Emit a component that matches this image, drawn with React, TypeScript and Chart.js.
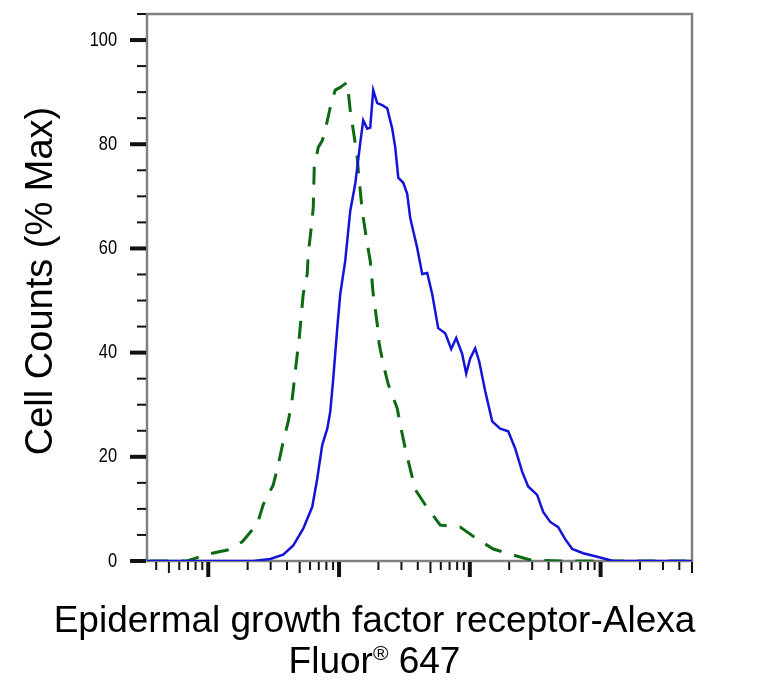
import React, { useEffect, useRef } from "react";
import { Chart, registerables } from "chart.js";

Chart.register(...registerables);

// EGFR-Alexa Fluor 647 stained cells (blue, solid)
const stainedX = [
  34, 221, 298, 374, 447, 532, 624, 681, 744, 813, 857, 903, 969, 1021, 1115,
  1218, 1330, 1452, 1531, 1643, 1732, 1825, 1959, 2138, 2335, 2550, 2690, 2838,
  3097, 3320, 3500, 3690, 3960, 4325, 4722, 5160, 5730, 6486, 7210, 7870, 8750,
  9380, 10070, 10990, 11800, 13120, 14830, 17060, 19660, 22230, 25160, 27940,
  32730, 36390, 41200, 47400, 53600, 60700, 73600, 94200, 124800, 500000,
];
const stainedY = [
  0, 0, 0.4, 1.2, 3, 6.2, 10.4, 15.8, 22.3, 25.4, 28.7, 35, 44.7, 51.2, 57.6,
  67.2, 72.4, 80.2, 84.6, 83, 83.2, 90.4, 87.9, 87.5, 86.9, 83, 79.4, 73.6,
  72.6, 70.5, 65.9, 63.4, 60.1, 55.1, 55.3, 51.2, 44.7, 43.7, 40.7, 42.8, 39.7,
  36, 38.9, 40.8, 38.3, 32.6, 26.8, 25.4, 24.9, 21.6, 17.1, 14.3, 12.7, 9.4,
  7.5, 6.5, 4.2, 2.3, 1.5, 0.8, 0, 0,
];

// isotype / unstained control (green, dashed)
const controlX = [
  36, 69, 95, 140, 182, 237, 263, 314, 343, 374, 409, 439, 454, 479, 496, 532,
  571, 582, 613, 635, 646, 693, 744, 784, 857, 935, 1021, 1155, 1218, 1285,
  1377, 1403, 1504, 1643, 1732, 1825, 1959, 2030, 2178, 2377, 2786, 2938, 3206,
  3500, 3828, 4560, 5940, 8450, 11400, 15100, 21100, 29000, 51800, 500000,
];
const controlY = [
  0, 0, 1.2, 2.1, 3.7, 7.1, 10.8, 14.6, 18.5, 22.9, 26.8, 31.2, 34.5, 39.7,
  42.8, 51.2, 55.1, 59, 64, 67.8, 75.5, 79.4, 80.7, 82.7, 87.1, 90.4, 90.9,
  91.9, 86.5, 82.7, 77.5, 75, 67.2, 60.9, 57.6, 51.2, 45.5, 41.6, 37.8, 33.9,
  29.3, 26.2, 21.6, 17.7, 13.7, 10.8, 6.9, 6.5, 4.2, 2.3, 1.2, 0.2, 0, 0,
];

const yTickValues = [0, 5, 10, 15, 20, 25, 30, 35, 40, 45, 50, 55, 60, 65, 70, 75, 80, 85, 90, 95, 100, 105];
const yTickLabels = ["0", "20", "40", "60", "80", "100"];
const xDecades = [10, 100, 1000, 10000, 100000];
const xMinorSteps = [2, 3, 4, 5, 6, 7, 8, 9];

const yTitle = "Cell Counts (% Max)";
const xTitleLine1 = "Epidermal growth factor receptor-Alexa";
const xTitleLine2 = ["Fluor", "®", " 647"];

const FONT = "'Liberation Sans', Arial, Helvetica, sans-serif";

const axisDecor = {
  id: "axisDecor",
  beforeDatasetsDraw(chart: any) {
    const { ctx, chartArea: a } = chart;
    ctx.save();
    ctx.strokeStyle = "#808080";
    ctx.lineWidth = 2.5;
    ctx.strokeRect(a.left, a.top, a.right - a.left, a.bottom - a.top);
    ctx.restore();
  },
  afterDraw(chart: any) {
    const { ctx, chartArea: a, scales } = chart;
    const xs = scales.x;
    const ys = scales.y;
    ctx.save();
    ctx.strokeStyle = "#111";
    ctx.lineCap = "butt";

    // y tick marks and labels (labels are a narrow face, squeeze regular one)
    yTickValues.forEach((v) => {
      const py = ys.getPixelForValue(v);
      const major = v % 20 === 0;
      ctx.lineWidth = major ? 4 : 2;
      ctx.beginPath();
      ctx.moveTo(a.left - (major ? 17 : 10), py);
      ctx.lineTo(a.left - 1, py);
      ctx.stroke();
      const label = String(v);
      if (yTickLabels.includes(label)) {
        ctx.save();
        ctx.fillStyle = "#000";
        ctx.font = `20px ${FONT}`;
        ctx.textAlign = "right";
        ctx.textBaseline = "middle";
        ctx.translate(117, py);
        ctx.scale(0.82, 1);
        ctx.fillText(label, 0, 0);
        ctx.restore();
      }
    });

    // x tick marks (log decades + minors)
    xDecades.forEach((d) => {
      if (d >= xs.min && d <= xs.max) {
        const px = xs.getPixelForValue(d);
        ctx.lineWidth = 4;
        ctx.beginPath();
        ctx.moveTo(px, a.bottom + 1);
        ctx.lineTo(px, a.bottom + 16);
        ctx.stroke();
      }
      xMinorSteps.forEach((s) => {
        const v = d * s;
        if (v < xs.min || v > xs.max * 1.001) return;
        const px = xs.getPixelForValue(v);
        ctx.lineWidth = 2;
        ctx.beginPath();
        ctx.moveTo(px, a.bottom + 1);
        ctx.lineTo(px, a.bottom + (s === 5 ? 12 : 9));
        ctx.stroke();
      });
    });

    // axis titles
    ctx.fillStyle = "#000";
    ctx.font = `38px ${FONT}`;
    ctx.save();
    ctx.translate(52, 281);
    ctx.rotate(-Math.PI / 2);
    ctx.textAlign = "center";
    ctx.textBaseline = "alphabetic";
    ctx.fillText(yTitle, 0, 0);
    ctx.restore();

    const cx = 374.5;
    ctx.font = `37px ${FONT}`;
    ctx.textAlign = "center";
    ctx.textBaseline = "alphabetic";
    ctx.fillText(xTitleLine1, cx, 632);

    ctx.textAlign = "left";
    const big = `37px ${FONT}`;
    const small = `21px ${FONT}`;
    ctx.font = big;
    const w0 = ctx.measureText(xTitleLine2[0]).width;
    const w2 = ctx.measureText(xTitleLine2[2]).width;
    ctx.font = small;
    const w1 = ctx.measureText(xTitleLine2[1]).width;
    let x0 = cx - (w0 + w1 + w2) / 2;
    ctx.font = big;
    ctx.fillText(xTitleLine2[0], x0, 673);
    x0 += w0;
    ctx.font = small;
    ctx.fillText(xTitleLine2[1], x0, 660);
    x0 += w1;
    ctx.font = big;
    ctx.fillText(xTitleLine2[2], x0, 673);
    ctx.restore();
  },
};

export default function App() {
  const canvasRef = useRef<HTMLCanvasElement | null>(null);
  const chartRef = useRef<Chart | null>(null);

  useEffect(() => {
    document.body.style.margin = "0";
    if (!canvasRef.current) return;
    const ctx = canvasRef.current.getContext("2d");
    if (!ctx) return;

    if (chartRef.current) {
      chartRef.current.destroy();
    }

    chartRef.current = new Chart(ctx, {
      type: "line",
      data: {
        datasets: [
          {
            label: "EGFR",
            data: stainedX.map((x, i) => ({ x, y: stainedY[i] })),
            borderColor: "#1414d8",
            borderWidth: 2.5,
            pointRadius: 0,
            tension: 0,
            fill: false,
          },
          {
            label: "Control",
            data: controlX.map((x, i) => ({ x, y: controlY[i] })),
            borderColor: "#0d6a12",
            borderWidth: 3,
            borderDash: [18, 13],
            pointRadius: 0,
            tension: 0,
            fill: false,
          },
        ],
      },
      options: {
        animation: false,
        responsive: true,
        maintainAspectRatio: false,
        layout: {
          padding: { top: 14, right: 92, left: 0, bottom: 0 },
        },
        plugins: {
          legend: { display: false },
          tooltip: { enabled: false },
          title: { display: false },
        },
        scales: {
          x: {
            type: "logarithmic",
            min: 34,
            max: 500000,
            grid: { display: false, drawTicks: false, tickLength: 0 },
            border: { display: false },
            ticks: { display: false },
            afterFit: (scale: any) => {
              scale.height = 135;
              scale.paddingLeft = 0;
              scale.paddingRight = 0;
            },
          },
          y: {
            type: "linear",
            min: 0,
            max: 105,
            grid: { display: false, drawTicks: false, tickLength: 0 },
            border: { display: false },
            ticks: { display: false },
            afterFit: (scale: any) => {
              scale.width = 147;
              scale.paddingTop = 0;
              scale.paddingBottom = 0;
            },
          },
        },
      },
      plugins: [axisDecor],
    });

    return () => {
      chartRef.current?.destroy();
      chartRef.current = null;
    };
  }, []);

  return (
    <div style={{ position: "relative", width: 784, height: 696, background: "#fff" }}>
      <canvas ref={canvasRef}></canvas>
    </div>
  );
}
